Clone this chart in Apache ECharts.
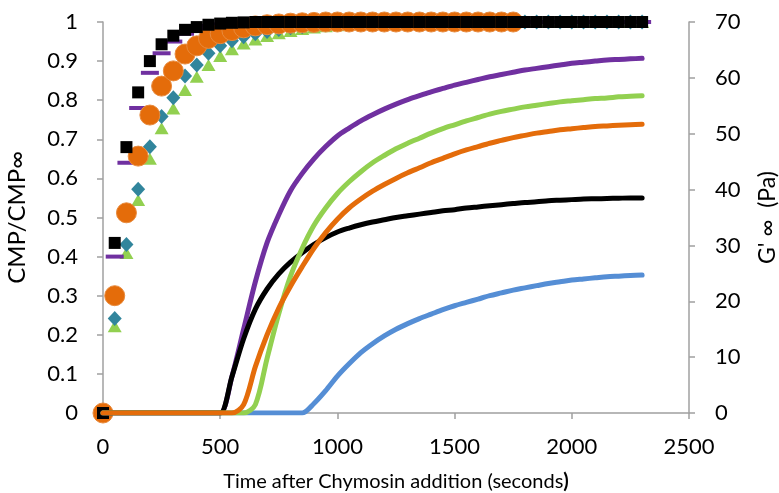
<!DOCTYPE html>
<html>
<head>
<meta charset="utf-8">
<script src="https://cdn.jsdelivr.net/npm/echarts@6/dist/echarts.min.js"></script>
<style>
html,body{margin:0;padding:0;background:#fff;}
#chart{width:779px;height:493px;}
</style>
</head>
<body>
<div id="chart"></div>
<script>
// ---- Data ----
const times = [0,50,100,150,200,250,300,350,400,450,500,550,600,650,700,750,800,850,900,950,1000,1050,1100,1150,1200,1250,1300,1350,1400,1450,1500,1550,1600,1650,1700,1750,1800,1850,1900,1950,2000,2050,2100,2150,2200,2250,2300];

// CMP/CMP∞ (left axis)
const cmpSquare = [0,0.435,0.68,0.82,0.90,0.943,0.965,0.98,0.987,0.993,0.996,0.998,0.999,1,1,1,1,1,1,1,1,1,1,1,1,1,1,1,1,1,1,1,1,1,1,1,1,1,1,1,1,1,1,1,1,1,1];
const cmpDash   = [0,0.40,0.64,0.78,0.87,0.92,0.95,0.97,0.98,0.99,0.994,0.997,0.998,1,1,1,1,1,1,1,1,1,1,1,1,1,1,1,1,1,1,1,1,1,1,1,1,1,1,1,1,1,1,1,1,1,1];
const cmpCircle = [0,0.30,0.512,0.657,0.762,0.836,0.875,0.918,0.939,0.958,0.97,0.978,0.985,0.99,0.993,0.995,0.997,0.998,0.999,1,1,1,1,1,1,1,1,1,1,1,1,1,1,1,1,1];
const cmpDiamond= [0,0.242,0.431,0.572,0.681,0.758,0.806,0.862,0.89,0.92,0.939,0.952,0.962,0.97,0.976,0.981,0.985,0.988,0.991,0.993,0.995,0.997,0.998,0.999,1,1,1,1,1,1,1,1,1,1,1,1,1,1,1,1,1,1,1,1,1,1,1];
const cmpTriangle=[0,0.222,0.409,0.545,0.65,0.728,0.779,0.826,0.86,0.89,0.913,0.93,0.945,0.955,0.964,0.971,0.977,0.982,0.986,0.989,0.992,0.994,0.996,0.998,0.999,1,1,1,1,1,1,1,1,1,1,1,1,1,1,1,1,1,1,1,1,1,1];

// G'∞ (Pa) (right axis)
const gPurple = [0,0,0,0,0,0,0,0,0,0,0,6.5,15,23.5,30.5,35.5,39.8,42.9,45.5,47.7,49.6,51.0,52.3,53.4,54.4,55.3,56.1,56.8,57.5,58.1,58.7,59.2,59.7,60.2,60.6,61.0,61.4,61.7,62.0,62.3,62.6,62.8,63.0,63.2,63.3,63.4,63.5];
const gBlue   = [0,0,0,0,0,0,0,0,0,0,0,0,0,0,0,0,0,0,1.7,4.0,6.6,8.8,10.8,12.4,13.8,15.0,16.0,16.9,17.7,18.5,19.2,19.8,20.4,21.0,21.5,22.0,22.4,22.8,23.2,23.5,23.8,24.0,24.2,24.4,24.5,24.6,24.7];
const gBlack  = [0,0,0,0,0,0,0,0,0,0,0,6.5,13.3,18.6,22.2,24.9,27.0,28.7,30.2,31.4,32.4,33.1,33.7,34.2,34.6,35.0,35.3,35.6,35.9,36.2,36.4,36.7,36.9,37.1,37.3,37.5,37.7,37.8,38.0,38.1,38.2,38.3,38.35,38.4,38.45,38.5,38.5];
const gGreen  = [0,0,0,0,0,0,0,0,0,0,0,0,0,1.5,9.8,17.8,24.5,29.5,33.6,36.7,39.3,41.4,43.2,44.8,46.1,47.3,48.3,49.2,50.1,50.9,51.6,52.3,52.9,53.5,54.0,54.4,54.8,55.1,55.4,55.7,55.9,56.1,56.3,56.4,56.6,56.7,56.8];
const gOrange = [0,0,0,0,0,0,0,0,0,0,0,0,1.5,8.3,14.0,18.8,22.7,26.2,29.5,32.3,34.7,36.7,38.3,39.7,40.9,42.0,43.0,43.9,44.8,45.6,46.4,47.1,47.7,48.3,48.8,49.3,49.7,50.1,50.4,50.7,50.9,51.1,51.3,51.4,51.5,51.6,51.7];

const xTickLabels = ['0','500','1000','1500','2000','2500'];

const pair = arr => arr.map((v,i)=>[times[i], v]);

const FONT = 'Lato';
const axisGray = '#A0A0A0';
const chart = echarts.init(document.getElementById('chart'), null, {renderer:'canvas'});

function lineSeries(data, color, z){
  return {type:'line', yAxisIndex:1, data:pair(data), showSymbol:false, symbol:'none',
    smooth:0.3, z:z, lineStyle:{color:color, width:5, cap:'round', join:'round'}, animation:false};
}
function scatterSeries(data, symbol, size, color, z, border){
  return {type:'scatter', yAxisIndex:0, data:pair(data), symbol:symbol, symbolSize:size, z:z,
    itemStyle:{color:color, opacity:1, borderColor:border||color, borderWidth:border?1:0}, animation:false};
}

chart.setOption({
  backgroundColor:'#fff',
  animation:false,
  grid:{left:103, right:90, top:22, bottom:80, containLabel:false, outerBoundsMode:'none'},
  xAxis:{
    type:'value', min:0, max:2500, interval:500,
    name:'Time after Chymosin addition (seconds{b|)}',
    nameLocation:'middle', nameGap:59,
    nameTextStyle:{fontFamily:FONT, fontSize:20, color:'#000', rich:{b:{fontFamily:FONT,fontSize:20,fontWeight:'bold',color:'#000'}}},
    axisLine:{show:true, onZero:false, lineStyle:{color:axisGray, width:1.5}},
    axisTick:{show:true, length:6, lineStyle:{color:axisGray, width:1.5}},
    axisLabel:{fontFamily:FONT, fontSize:22, color:'#000', margin:23,
      formatter:(v)=>xTickLabels[Math.round(v/500)] || String(v)},
    splitLine:{show:false}
  },
  yAxis:[{
    type:'value', min:0, max:1, interval:0.1, position:'left',
    name:'CMP/CMP∞', nameLocation:'middle', nameGap:74, nameRotate:90,
    nameTextStyle:{fontFamily:FONT, fontSize:24, color:'#000'},
    axisLine:{show:true, onZero:false, lineStyle:{color:axisGray, width:1.5}},
    axisTick:{show:true, length:6, lineStyle:{color:axisGray, width:1.5}},
    axisLabel:{fontFamily:FONT, fontSize:22, color:'#000', margin:25},
    splitLine:{show:false}
  },{
    type:'value', min:0, max:70, interval:10, position:'right',
    name:"G' ∞  (Pa)", nameLocation:'middle', nameGap:67, nameRotate:90,
    nameTextStyle:{fontFamily:FONT, fontSize:23, color:'#000'},
    axisLine:{show:true, onZero:false, lineStyle:{color:axisGray, width:1.5}},
    axisTick:{show:true, length:6, lineStyle:{color:axisGray, width:1.5}},
    axisLabel:{fontFamily:FONT, fontSize:22, color:'#000', margin:26},
    splitLine:{show:false}
  }],
  series:[
    scatterSeries(cmpTriangle, 'triangle', [14,12], '#92D050', 2),
    scatterSeries(cmpDiamond, 'diamond', [14,15], '#31859C', 3),
    scatterSeries(cmpDash, 'rect', [18,4], '#7030A0', 4),
    scatterSeries(cmpCircle, 'circle', 20, '#E46C0A', 5, '#E88A3C'),
    scatterSeries(cmpSquare, 'rect', [12,12], '#000000', 6),
    lineSeries(gPurple, '#7030A0', 10),
    lineSeries(gBlue, '#558ED5', 11),
    lineSeries(gBlack, '#000000', 12),
    lineSeries(gGreen, '#92D050', 13),
    lineSeries(gOrange, '#E46C0A', 14)
  ]
});
</script>
</body>
</html>
